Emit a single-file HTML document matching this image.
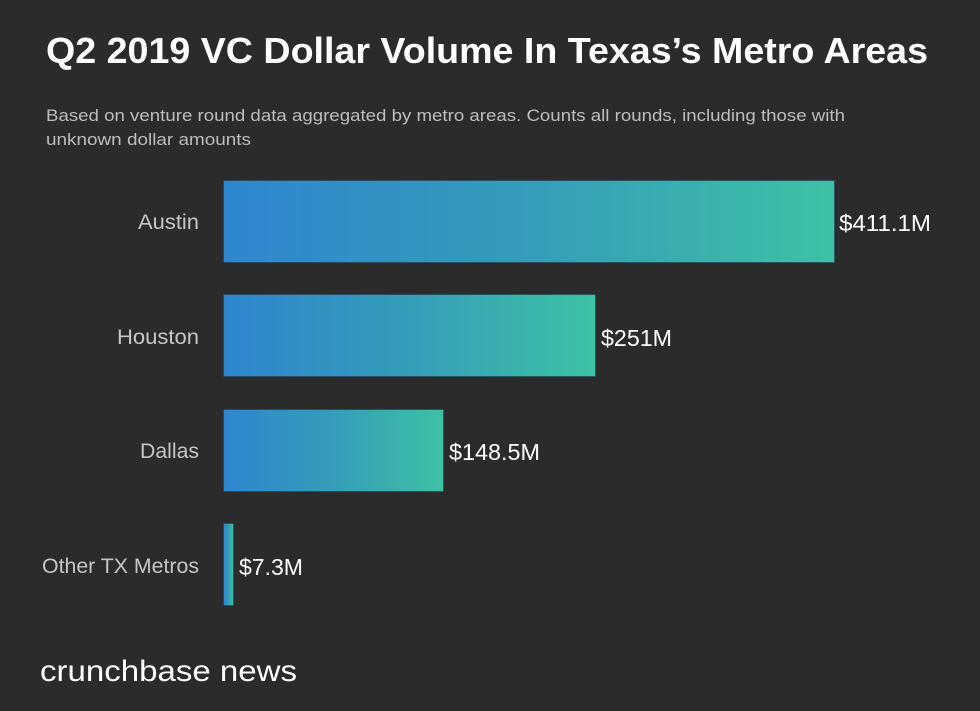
<!DOCTYPE html>
<html>
<head>
<meta charset="utf-8">
<style>
html,body{margin:0;padding:0;background:#2b2b2b;}
svg{display:block;}
text{font-family:"Liberation Sans",sans-serif;}
</style>
</head>
<body>
<svg width="980" height="711" viewBox="0 0 980 711" xmlns="http://www.w3.org/2000/svg">
<defs>
<linearGradient id="g" x1="0" y1="0" x2="1" y2="0">
<stop offset="0" stop-color="#2f86cf"/>
<stop offset="0.5" stop-color="#349db9"/>
<stop offset="1" stop-color="#3ec1a4"/>
</linearGradient>
</defs>
<rect width="980" height="711" fill="#2b2b2b"/>
<text x="46" y="63" font-size="36" font-weight="bold" fill="#ffffff" textLength="882" lengthAdjust="spacingAndGlyphs">Q2 2019 VC Dollar Volume In Texas’s Metro Areas</text>
<text x="46" y="121" font-size="17" fill="#bdbdbd" textLength="799" lengthAdjust="spacingAndGlyphs">Based on venture round data aggregated by metro areas. Counts all rounds, including those with</text>
<text x="46" y="145" font-size="17" fill="#bdbdbd" textLength="205" lengthAdjust="spacingAndGlyphs">unknown dollar amounts</text>

<g stroke="#1f3f55" stroke-opacity="0.55" stroke-width="1">
<rect x="223.5" y="180.5" width="611" height="82" fill="url(#g)"/>
<rect x="223.5" y="294.5" width="372" height="82" fill="url(#g)"/>
<rect x="223.5" y="409.5" width="220" height="82" fill="url(#g)"/>
<rect x="223.5" y="523.5" width="10" height="82" fill="url(#g)"/>
</g>

<g font-size="21" fill="#c6c6c6" text-anchor="end">
<text x="199" y="229" textLength="61" lengthAdjust="spacingAndGlyphs">Austin</text>
<text x="199" y="344" textLength="82" lengthAdjust="spacingAndGlyphs">Houston</text>
<text x="199" y="458" textLength="59" lengthAdjust="spacingAndGlyphs">Dallas</text>
<text x="199" y="573" textLength="157" lengthAdjust="spacingAndGlyphs">Other TX Metros</text>
</g>

<g font-size="23" fill="#ffffff">
<text x="839" y="231" textLength="92" lengthAdjust="spacingAndGlyphs">$411.1M</text>
<text x="601" y="346" textLength="71" lengthAdjust="spacingAndGlyphs">$251M</text>
<text x="449" y="460" textLength="91" lengthAdjust="spacingAndGlyphs">$148.5M</text>
<text x="239" y="575" textLength="64" lengthAdjust="spacingAndGlyphs">$7.3M</text>
</g>

<text x="40" y="681" font-size="30" fill="#ffffff" textLength="257" lengthAdjust="spacingAndGlyphs">crunchbase news</text>
</svg>
</body>
</html>
